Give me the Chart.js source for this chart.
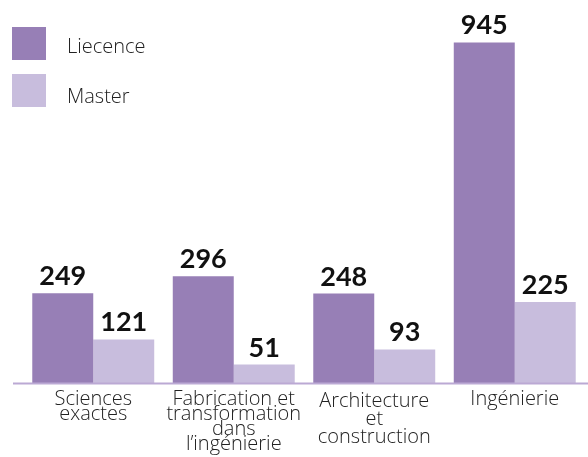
<!DOCTYPE html>
<html><head><meta charset="utf-8">
<script src="https://cdn.jsdelivr.net/npm/chart.js@4.4.1/dist/chart.umd.min.js"></script>
<style>html,body{margin:0;padding:0;background:#fff}#wrap{width:588px;height:457px;position:relative}</style>
</head><body><div id="wrap"><canvas id="c" width="588" height="457"></canvas></div>
<script>
const categories = [["Sciences","exactes"],["Fabrication et","transformation","dans","l’ingénierie"],["Architecture","et","construction"],["Ingénierie"]];
const seriesNames = ["Liecence","Master"];
const licenceValues = [249, 296, 248, 945];
const masterValues = [121, 51, 93, 225];
const seriesColors = ["#977fb6", "#c8bddd"];
const axisColor = "#bba9d4";
const tickLineHeights = [15, 15, 18, 15];
const labelFont = "Open Sans";

const valueLabels = {
  id: 'valueLabels',
  afterDatasetsDraw(chart) {
    const ctx = chart.ctx;
    ctx.save();
    ctx.font = "bold 27px Lato";
    ctx.fillStyle = "#111";
    ctx.textAlign = "center";
    ctx.textBaseline = "alphabetic";
    chart.data.datasets.forEach((ds, i) => {
      chart.getDatasetMeta(i).data.forEach((bar, j) => {
        ctx.fillText(String(ds.data[j]), bar.x, bar.y - 8);
      });
    });
    ctx.restore();
  }
};
const baseLine = {
  id: 'baseLine',
  afterDatasetsDraw(chart) {
    const ctx = chart.ctx;
    const y = chart.chartArea.bottom + 0.5;
    ctx.save();
    ctx.strokeStyle = axisColor;
    ctx.lineWidth = 2;
    ctx.beginPath();
    ctx.moveTo(13, y);
    ctx.lineTo(chart.width, y);
    ctx.stroke();
    ctx.restore();
  }
};
const sideLegend = {
  id: 'sideLegend',
  afterDraw(chart) {
    const ctx = chart.ctx;
    ctx.save();
    ctx.font = "300 20px '" + labelFont + "'";
    ctx.textBaseline = "alphabetic";
    ctx.textAlign = "left";
    chart.data.datasets.forEach((ds, i) => {
      const top = 27 + i * 47;
      ctx.fillStyle = ds.backgroundColor;
      ctx.fillRect(12, top, 34, 33);
      ctx.fillStyle = "#222";
      ctx.fillText(ds.label, 67, top + 26 + i * 3);
    });
    ctx.restore();
  }
};

new Chart(document.getElementById('c'), {
  type: 'bar',
  data: {
    labels: categories,
    datasets: [
      { label: seriesNames[0], data: licenceValues, backgroundColor: seriesColors[0] },
      { label: seriesNames[1], data: masterValues, backgroundColor: seriesColors[1] }
    ]
  },
  options: {
    responsive: false,
    devicePixelRatio: 1,
    animation: false,
    layout: { padding: { left: 23, right: 3, top: 10, bottom: 0 } },
    datasets: { bar: { categoryPercentage: 0.868, barPercentage: 1.0 } },
    plugins: { legend: { display: false }, tooltip: { enabled: false } },
    scales: {
      x: {
        grid: { display: false, drawTicks: false },
        border: { display: false },
        afterFit(scale) { scale.height = 74; },
        ticks: {
          color: "#222",
          padding: 9,
          maxRotation: 0,
          autoSkip: false,
          font: (ctx) => ({ family: labelFont, size: 20, weight: 300, lineHeight: (tickLineHeights[ctx.index] || 15) + "px" })
        }
      },
      y: { display: false, min: 0, max: 1035 }
    }
  },
  plugins: [baseLine, valueLabels, sideLegend]
});
</script>
</body></html>
